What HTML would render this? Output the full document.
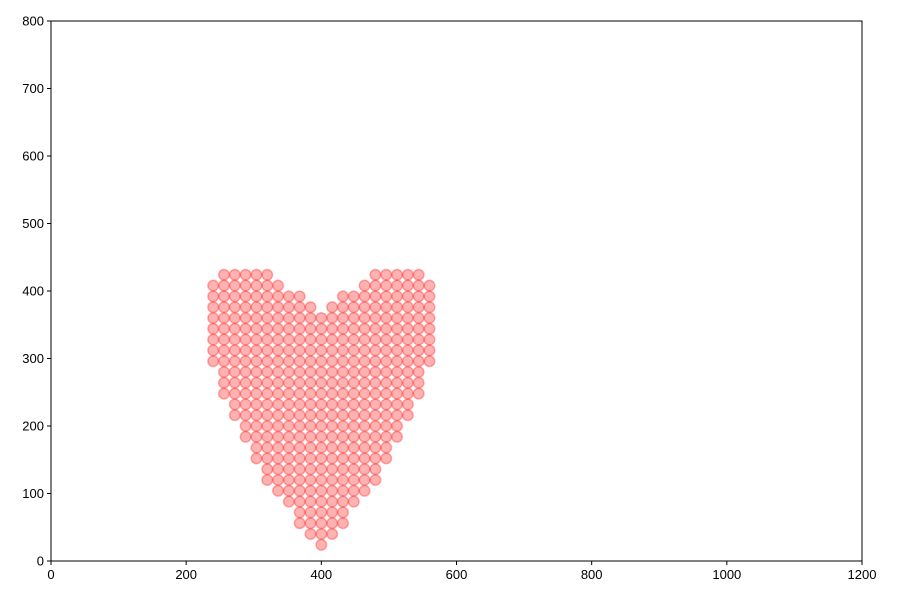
<!DOCTYPE html>
<html><head><meta charset="utf-8"><style>
body{margin:0;background:#fff;font-family:"Liberation Sans",sans-serif}
svg text{font-family:"Liberation Sans",sans-serif;font-size:13px;fill:#000}
</style></head><body>
<svg id="c" width="900" height="600" xmlns="http://www.w3.org/2000/svg"></svg>
<script>
const colX = [240,256,272,288,304,320,336,352,368,384,400,416,432,448,464,480,496,512,528,544,560];
const colYMin = [296,248,216,184,152,120,104,88,56,40,24,40,56,88,104,120,152,184,216,248,296];
const colYMax = [408,424,424,424,424,424,408,392,392,376,360,376,392,392,408,424,424,424,424,424,408];
const rowStep = 16;
const xTicks = [0,200,400,600,800,1000,1200];
const yTicks = [0,100,200,300,400,500,600,700,800];

const L=51,R=862,T=21,B=561;
const sx=v=>L+(v-0)/(1200-0)*(R-L);
const sy=v=>B-(v-0)/(800-0)*(B-T);
const svg=document.getElementById('c');
const NS='http://www.w3.org/2000/svg';
function mk(tag,attrs,parent){const e=document.createElementNS(NS,tag);for(const k in attrs)e.setAttribute(k,attrs[k]);(parent||svg).appendChild(e);return e;}

const pts=mk('g',{});


colX.forEach((x,i)=>{
  for(let y=colYMin[i];y<=colYMax[i];y+=rowStep){
    const c=mk('circle',{cx:sx(x),cy:sy(y),r:5.3,fill:'rgba(255,0,0,0.3)',stroke:'rgba(255,0,0,0.3)','stroke-width':1.5},pts);
    
    
  }
});

const frame=mk('rect',{x:L,y:T,width:R-L,height:B-T,fill:'none',stroke:'#000','stroke-width':1});



const xa=mk('g',{});


xTicks.forEach(t=>{
  mk('line',{x1:sx(t),x2:sx(t),y1:B,y2:B+4,stroke:'#000'},xa);
  const tx=mk('text',{x:sx(t),y:B+18,'text-anchor':'middle'},xa);
  tx.textContent=t;
  
  
});
const ya=mk('g',{});


yTicks.forEach(t=>{
  mk('line',{x1:L-4,x2:L,y1:sy(t),y2:sy(t),stroke:'#000'},ya);
  const tx=mk('text',{x:L-7,y:sy(t)+4.5,'text-anchor':'end'},ya);
  tx.textContent=t;
  
  
});
</script>
</body></html>
